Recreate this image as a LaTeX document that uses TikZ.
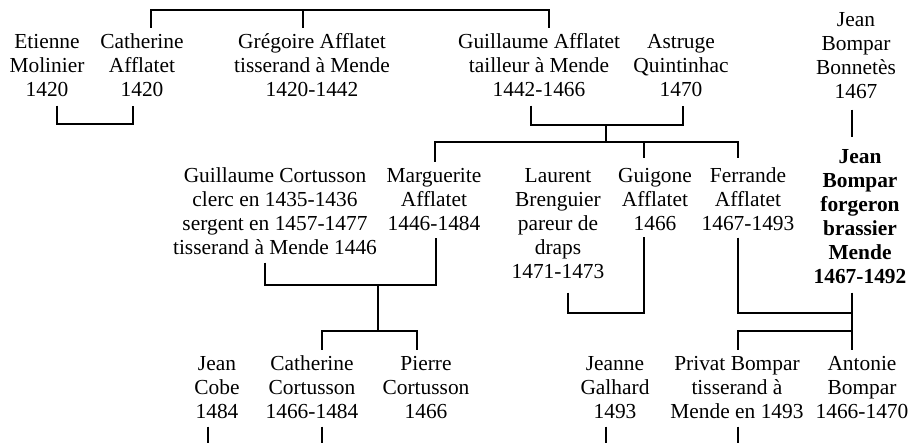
\documentclass[tikz,border=0pt]{standalone}
\usepackage{fontspec}
\setmainfont{Liberation Serif}
\usetikzlibrary{calc}
\newcommand\fs{\fontsize{21.4}{24}\selectfont}
\newcommand\tp{\rule{0pt}{17pt}}
\begin{document}
\begin{tikzpicture}[x=1pt,y=-1pt,
  person/.style={align=center, inner sep=0pt, anchor=north, font=\fs},
  link/.style={line width=2pt}]
\useasboundingbox (0,0) rectangle (908,443);
\fill[white] (0,0) rectangle (908,443);
% row 1
\node[person] (etienne) at (47,31) {\tp Etienne\\Molinier\\1420};
\node[person] (catA) at (142,31) {\tp Catherine\\Afflatet\\1420};
\node[person] (greg) at (312,31) {\tp Grégoire Afflatet\\tisserand à Mende\\1420-1442};
\node[person] (guilA) at (539,31) {\tp Guillaume Afflatet\\tailleur à Mende\\1442-1466};
\node[person] (astruge) at (681,31) {\tp Astruge\\Quintinhac\\1470};
\node[person] (jbb) at (856,9) {\tp Jean\\Bompar\\Bonnetès\\1467};
% row 2
\node[person] (gc) at (275,165) {\tp Guillaume Cortusson\\clerc en 1435-1436\\sergent en 1457-1477\\tisserand à Mende 1446};
\node[person] (marg) at (434,165) {\tp Marguerite\\Afflatet\\1446-1484};
\node[person] (laur) at (558,165) {\tp Laurent\\Brenguier\\pareur de\\draps\\1471-1473};
\node[person] (guig) at (655,165) {\tp Guigone\\Afflatet\\1466};
\node[person] (ferr) at (748,165) {\tp Ferrande\\Afflatet\\1467-1493};
\node[person,font=\fs\bfseries] (jb) at (860,146) {\tp Jean\\Bompar\\forgeron\\brassier\\Mende\\1467-1492};
% row 3
\node[person] (cobe) at (217,353) {\tp Jean\\Cobe\\1484};
\node[person] (catC) at (312,353) {\tp Catherine\\Cortusson\\1466-1484};
\node[person] (pierre) at (426,353) {\tp Pierre\\Cortusson\\1466};
\node[person] (jeanne) at (615,353) {\tp Jeanne\\Galhard\\1493};
\node[person] (priv) at (737,353) {\tp Privat Bompar\\tisserand à\\Mende en 1493};
\node[person] (anto) at (862,353) {\tp Antonie\\Bompar\\1466-1470};
% junctions
\coordinate (gam) at ($(astruge.south)+(-75,28)$);
\coordinate (gak) at ($(guig.north)+(-49,-23)$);
\coordinate (gcm) at ($(marg.south)+(-56,54)$);
\coordinate (gck) at ($(catC.north)+(66,-22)$);
\coordinate (e1) at ($(cobe.south)+(-9,27)$);
\coordinate (e2) at ($(catC.south)+(10,27)$);
\coordinate (e3) at ($(jeanne.south)+(-9,27)$);
\coordinate (e4) at ($(priv.south)+(1,27)$);
% connectors
\draw[link] ($(catA.north)+(9,-3)$) |- ($(guilA.north)+(10,-21)$) -- ($(guilA.north)+(10,-3)$);
\draw[link] ($(greg.north)+(-9,-3)$) -- ($(greg.north)+(-9,-21)$);
\draw[link] ($(etienne.south)+(10,9)$) |- ($(catA.south)+(-9,27)$) -- ($(catA.south)+(-9,9)$);
\draw[link] ($(guilA.south)+(-8,9)$) |- ($(astruge.south)+(2,28)$) -- ($(astruge.south)+(2,9)$);
\draw[link] (gam) -- (gak);
\draw[link] ($(marg.north)+(1,-3)$) |- ($(ferr.north)+(-10,-23)$) -- ($(ferr.north)+(-10,-7)$);
\draw[link] ($(guig.north)+(-11,-7)$) -- ($(guig.north)+(-11,-23)$);
\draw[link] ($(jbb.south)+(-4,11)$) -- ($(jb.north)+(-8,-9)$);
\draw[link] ($(gc.south)+(-10,8)$) |- ($(marg.south)+(2,54)$) -- ($(marg.south)+(2,7)$);
\draw[link] (gcm) -- (gck);
\draw[link] ($(catC.north)+(10,-3)$) |- ($(pierre.north)+(-9,-22)$) -- ($(pierre.north)+(-9,-3)$);
\draw[link] ($(laur.south)+(10,14)$) |- ($(guig.south)+(-11,82)$) -- ($(guig.south)+(-11,6)$);
\draw[link] ($(ferr.south)+(-10,7)$) |- ($(jb.south)+(-8,29)$);
\draw[link] ($(jb.south)+(-8,9)$) -- ($(anto.north)+(-10,-3)$);
\draw[link] ($(priv.north)+(1,-3)$) |- ($(anto.north)+(-10,-22)$);
\draw[link] ($(cobe.south)+(-9,8)$) -- (e1);
\draw[link] ($(catC.south)+(10,8)$) -- (e2);
\draw[link] ($(jeanne.south)+(-9,8)$) -- (e3);
\draw[link] ($(priv.south)+(1,8)$) -- (e4);
\end{tikzpicture}
\end{document}
